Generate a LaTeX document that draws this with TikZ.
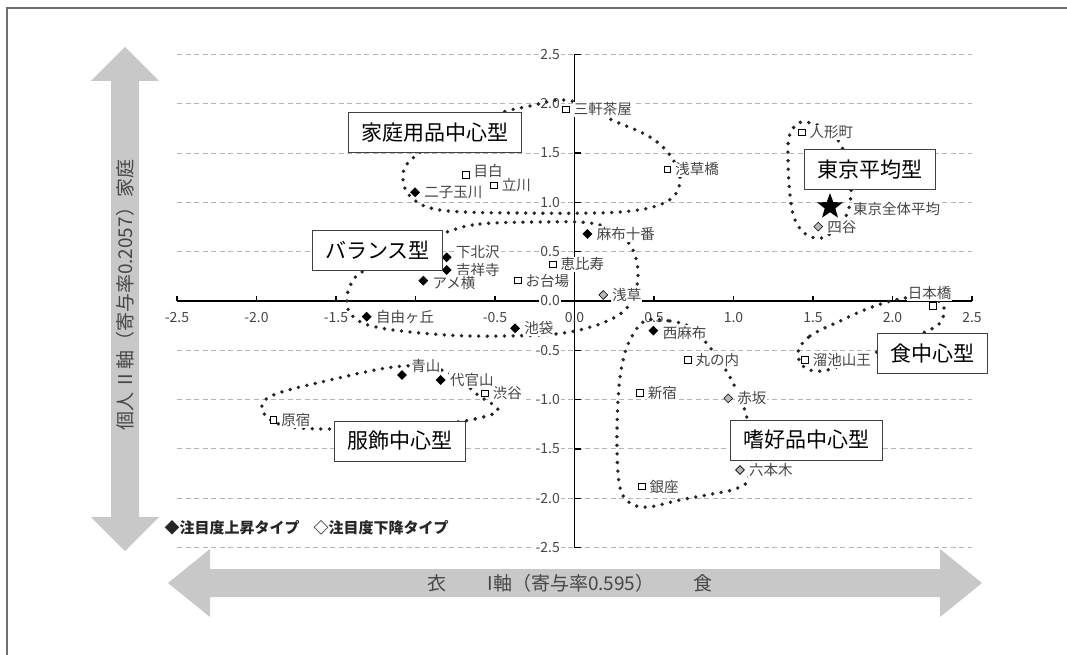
\documentclass[tikz,border=0pt]{standalone}
\usepackage{fontspec}
\setmainfont{Noto Sans CJK JP}
\usepackage{tikz}
\usetikzlibrary{positioning,shapes.geometric}

\definecolor{arrowgray}{RGB}{200,200,200}
\definecolor{gridgray}{RGB}{180,180,180}
\definecolor{framegray}{RGB}{110,110,110}
\definecolor{textgray}{RGB}{70,70,70}

\tikzset{
  grid line/.style={gridgray, dash pattern=on 5pt off 3.5pt, line width=1pt},
  axis line/.style={black, line width=1.2pt},
  tick label/.style={font=\fontsize{14}{14}\selectfont, text=textgray, inner sep=1.5pt},
  area label/.style={font=\fontsize{14.5}{15}\selectfont, text=textgray, fill=white, inner sep=1pt},
  sqmark/.style={rectangle, draw=black, fill=white, line width=0.9pt, minimum size=6.5pt, inner sep=0pt},
  upmark/.style={diamond, fill=black, minimum size=10pt, inner sep=0pt},
  downmark/.style={diamond, draw=black, fill=gray!55, line width=0.6pt, minimum size=9pt, inner sep=0pt},
  typebox/.style={draw=black!75, fill=white, line width=1pt, font=\fontsize{21}{21}\selectfont, minimum height=40pt, inner xsep=13pt},
  dotline/.style={black!85, line width=3.8pt, line cap=round, dash pattern=on 0pt off 8.6pt},
  arrow text/.style={font=\fontsize{19}{19}\selectfont, text=textgray}
}

\begin{document}
\begin{tikzpicture}[x=1pt, y=-1pt]

    \useasboundingbox (0,0) rectangle (1067,655);

    \fill[white] (0,0) rectangle (1067,655);

    \draw[framegray, line width=1.5pt] (7,655) -- (7,8) -- (1067,8);


    \fill[arrowgray] (125,47) -- (159,81) -- (139,81) -- (139,517) -- (159,517) -- (125,551) -- (91,517) -- (111,517) -- (111,81) -- (91,81) -- cycle;

    \fill[arrowgray] (168,583) -- (210,549) -- (210,569) -- (940,569) -- (940,549) -- (982,583) -- (940,617) -- (940,597) -- (210,597) -- (210,617) -- cycle;

    \node[arrow text, rotate=90] (yaxis) at (125,295) {個人\hspace{7pt}II\hspace{4pt}軸（寄与率0.2057）家庭};

    \node[arrow text] (xleft) at (437,583) {衣};

    \node[arrow text] (xmid) at (571,583) {I軸（寄与率0.595）};

    \node[arrow text] (xright) at (703,583) {食};

    \node[anchor=west, font=\bfseries\fontsize{15}{15}\selectfont, text=black!85] (legend) at (161,528) {◆注目度上昇タイプ\hspace{14pt}◇注目度下降タイプ};


  \begin{scope}[shift={(574.5,301)}, x=159pt, y=98.6pt]

    \draw[grid line] (-2.5,2.5) -- (2.5,2.5);

    \draw[grid line] (-2.5,2) -- (2.5,2);

    \draw[grid line] (-2.5,1.5) -- (2.5,1.5);

    \draw[grid line] (-2.5,1) -- (2.5,1);

    \draw[grid line] (-2.5,0.5) -- (2.5,0.5);

    \draw[grid line] (-2.5,-0.5) -- (2.5,-0.5);

    \draw[grid line] (-2.5,-1) -- (2.5,-1);

    \draw[grid line] (-2.5,-1.5) -- (2.5,-1.5);

    \draw[grid line] (-2.5,-2) -- (2.5,-2);

    \draw[grid line] (-2.5,-2.5) -- (2.5,-2.5);


    \draw[axis line] (-2.5,0) -- (2.5,0);

    \draw[axis line] (0,-2.5) -- (0,2.5);

    \draw[axis line] (-2.5,0) -- ++(0,5pt);

    \draw[axis line] (-2,0) -- ++(0,5pt);

    \draw[axis line] (-1.5,0) -- ++(0,5pt);

    \draw[axis line] (-1,0) -- ++(0,5pt);

    \draw[axis line] (-0.5,0) -- ++(0,5pt);

    \draw[axis line] (0.5,0) -- ++(0,5pt);

    \draw[axis line] (1,0) -- ++(0,5pt);

    \draw[axis line] (1.5,0) -- ++(0,5pt);

    \draw[axis line] (2,0) -- ++(0,5pt);

    \draw[axis line] (2.5,0) -- ++(0,5pt);

    \draw[axis line] (0,2.5) -- ++(6pt,0);

    \draw[axis line] (0,2) -- ++(6pt,0);

    \draw[axis line] (0,1.5) -- ++(6pt,0);

    \draw[axis line] (0,1) -- ++(6pt,0);

    \draw[axis line] (0,0.5) -- ++(6pt,0);

    \draw[axis line] (0,-0.5) -- ++(6pt,0);

    \draw[axis line] (0,-1) -- ++(6pt,0);

    \draw[axis line] (0,-1.5) -- ++(6pt,0);

    \draw[axis line] (0,-2) -- ++(6pt,0);

    \draw[axis line] (0,-2.5) -- ++(6pt,0);


    \node[tick label, fill=white, anchor=east] (y25) at ([xshift=-13pt]0,2.5) {2.5};

    \node[tick label, fill=white, anchor=east] (y20) at ([xshift=-13pt]0,2) {2.0};

    \node[tick label, fill=white, anchor=east] (y15) at ([xshift=-13pt]0,1.5) {1.5};

    \node[tick label, fill=white, anchor=east] (y10) at ([xshift=-13pt]0,1) {1.0};

    \node[tick label, fill=white, anchor=east] (y05) at ([xshift=-13pt]0,0.5) {0.5};

    \node[tick label, fill=white, anchor=east] (y00) at ([xshift=-13pt]0,0) {0.0};

    \node[tick label, fill=white, anchor=east] (ym05) at ([xshift=-13pt]0,-0.5) {-0.5};

    \node[tick label, fill=white, anchor=east] (ym10) at ([xshift=-13pt]0,-1) {-1.0};

    \node[tick label, fill=white, anchor=east] (ym15) at ([xshift=-13pt]0,-1.5) {-1.5};

    \node[tick label, fill=white, anchor=east] (ym20) at ([xshift=-13pt]0,-2) {-2.0};

    \node[tick label, fill=white, anchor=east] (ym25) at ([xshift=-13pt]0,-2.5) {-2.5};

    \node[tick label] (xm25) at ([yshift=-17pt]-2.5,0) {-2.5};

    \node[tick label] (xm20) at ([yshift=-17pt]-2,0) {-2.0};

    \node[tick label] (xm15) at ([yshift=-17pt]-1.5,0) {-1.5};

    \node[tick label] (xm05) at ([yshift=-17pt]-0.5,0) {-0.5};

    \node[tick label] (x00) at ([yshift=-17pt]0,0) {0.0};

    \node[tick label] (x05) at ([yshift=-17pt]0.5,0) {0.5};

    \node[tick label] (x10) at ([yshift=-17pt]1,0) {1.0};

    \node[tick label] (x15) at ([yshift=-17pt]1.5,0) {1.5};

    \node[tick label] (x20) at ([yshift=-17pt]2,0) {2.0};

    \node[tick label] (x25) at ([yshift=-17pt]2.5,0) {2.5};

  \end{scope}


    \draw[dotline] plot[smooth cycle, tension=0.6] coordinates {(500,113) (530,106) (560,100) (585,105) (610,119) (650,137) (672,158) (680,182) (666,202) (620,212) (520,213) (440,210) (410,196) (403,175) (413,158) (455,130)};

    \draw[dotline] plot[smooth cycle, tension=0.6] coordinates {(447,232) (480,224) (540,222) (590,223) (618,233) (633,250) (638,272) (635,293) (625,310) (605,322) (575,331) (540,335) (470,336) (410,332) (368,325) (350,313) (347,297) (352,282) (362,272) (400,250)};

    \draw[dotline] plot[smooth cycle, tension=0.6] coordinates {(806,122) (826,129) (841,145) (848,168) (851,193) (845,218) (825,237) (807,235) (795,220) (790,195) (788,160) (789,137) (796,125)};

    \draw[dotline] plot[smooth cycle, tension=0.6] coordinates {(798,352) (810,336) (840,321) (872,307) (905,298) (932,298) (944,308) (940,323) (925,332) (895,345) (850,362) (822,371) (804,367)};

    \draw[dotline] plot[smooth cycle, tension=0.6] coordinates {(645,321) (670,321) (690,327) (708,345) (727,372) (740,398) (747,418) (752,450) (748,480) (735,489) (712,494) (680,500) (648,507) (630,503) (620,488) (617,450) (618,400) (622,365) (630,340)};

    \draw[dotline] plot[smooth cycle, tension=0.6] coordinates {(498,410) (475,419) (440,424) (400,428) (335,429) (300,428) (276,423) (263,412) (265,400) (285,391) (330,380) (375,370) (405,366) (430,367) (455,376) (478,395)};


  \begin{scope}[shift={(574.5,301)}, x=159pt, y=98.6pt]

    \node[sqmark] (sangen) at (-0.053,1.944) {};

    \node[sqmark] (ningyo) at (1.429,1.711) {};

    \node[sqmark] (mejiro) at (-0.684,1.278) {};

    \node[sqmark] (tachikawa) at (-0.506,1.173) {};

    \node[sqmark] (asakusabashi) at (0.584,1.336) {};

    \node[sqmark] (ebisu) at (-0.137,0.372) {};

    \node[sqmark] (odaiba) at (-0.357,0.206) {};

    \node[sqmark] (nihonbashi) at (2.253,-0.051) {};

    \node[sqmark] (marunouchi) at (0.712,-0.598) {};

    \node[sqmark] (tameike) at (1.45,-0.598) {};

    \node[sqmark] (shinjuku) at (0.412,-0.93) {};

    \node[sqmark] (shibuya) at (-0.563,-0.936) {};

    \node[sqmark] (harajuku) at (-1.894,-1.207) {};

    \node[sqmark] (ginza) at (0.423,-1.883) {};

    \node[upmark] (futako) at (-1.003,1.102) {};

    \node[upmark] (azabu) at (0.081,0.68) {};

    \node[upmark] (shimokita) at (-0.804,0.443) {};

    \node[upmark] (kichijoji) at (-0.804,0.314) {};

    \node[upmark] (ameyoko) at (-0.951,0.206) {};

    \node[upmark] (jiyugaoka) at (-1.307,-0.159) {};

    \node[upmark] (ikebukuro) at (-0.374,-0.277) {};

    \node[upmark] (nishiazabu) at (0.496,-0.301) {};

    \node[upmark] (aoyama) at (-1.085,-0.751) {};

    \node[upmark] (daikanyama) at (-0.842,-0.801) {};

    \node[downmark] (yotsuya) at (1.533,0.754) {};

    \node[downmark] (asakusa) at (0.181,0.061) {};

    \node[downmark] (akasaka) at (0.967,-0.987) {};

    \node[downmark] (roppongi) at (1.041,-1.714) {};

    \node[star, star points=5, star point ratio=2.4, fill=black, minimum size=27pt, inner sep=0pt] (tokyoavg) at (1.607,0.957) {};


    \node[area label, right=3pt of sangen] (sangenlbl) {三軒茶屋};

    \node[area label, right=3pt of ningyo] (ningyolbl) {人形町};

    \node[area label, right=3pt of mejiro, yshift=4pt] (mejirolbl) {目白};

    \node[area label, right=3pt of tachikawa] (tachikawalbl) {立川};

    \node[area label, right=3pt of asakusabashi] (asakusabashilbl) {浅草橋};

    \node[area label, right=3pt of ebisu] (ebisulbl) {恵比寿};

    \node[area label, right=3pt of odaiba] (odaibalbl) {お台場};

    \node[area label, above=1pt of nihonbashi, xshift=-3pt] (nihonbashilbl) {日本橋};

    \node[area label, right=3pt of marunouchi] (marunouchilbl) {丸の内};

    \node[area label, right=3pt of tameike] (tameikelbl) {溜池山王};

    \node[area label, right=3pt of shinjuku] (shinjukulbl) {新宿};

    \node[area label, right=3pt of shibuya] (shibuyalbl) {渋谷};

    \node[area label, right=3pt of harajuku] (harajukulbl) {原宿};

    \node[area label, right=3pt of ginza] (ginzalbl) {銀座};

    \node[area label, right=3pt of futako] (futakolbl) {二子玉川};

    \node[area label, right=3pt of azabu] (azabulbl) {麻布十番};

    \node[area label, right=3pt of shimokita, yshift=5pt] (shimokitalbl) {下北沢};

    \node[area label, right=3pt of kichijoji] (kichijojilbl) {吉祥寺};

    \node[area label, right=3pt of ameyoko, yshift=-2pt] (ameyokolbl) {アメ横};

    \node[area label, right=3pt of jiyugaoka] (jiyugaokalbl) {自由ヶ丘};

    \node[area label, right=3pt of ikebukuro] (ikebukurolbl) {池袋};

    \node[area label, right=3pt of nishiazabu, yshift=-2pt] (nishiazabulbl) {西麻布};

    \node[area label, right=3pt of aoyama, yshift=9pt] (aoyamalbl) {青山};

    \node[area label, right=3pt of daikanyama] (daikanyamalbl) {代官山};

    \node[area label, right=3pt of yotsuya] (yotsuyalbl) {四谷};

    \node[area label, right=3pt of asakusa] (asakusalbl) {浅草};

    \node[area label, right=3pt of akasaka] (akasakalbl) {赤坂};

    \node[area label, right=3pt of roppongi] (roppongilbl) {六本木};

    \node[area label, right=14pt of tokyoavg, yshift=-2pt] (tokyoavglbl) {東京全体平均};


    \node[typebox] (katei) at (-0.877,1.704) {家庭用品中心型};

    \node[typebox] (balance) at (-1.239,0.517) {バランス型};

    \node[typebox] (heikin) at (1.858,1.332) {東京平均型};

    \node[typebox] (shoku) at (2.252,-0.532) {食中心型};

    \node[typebox] (shikou) at (1.458,-1.41) {嗜好品中心型};

    \node[typebox] (fukushoku) at (-1.097,-1.42) {服飾中心型};

  \end{scope}

\end{tikzpicture}
\end{document}
